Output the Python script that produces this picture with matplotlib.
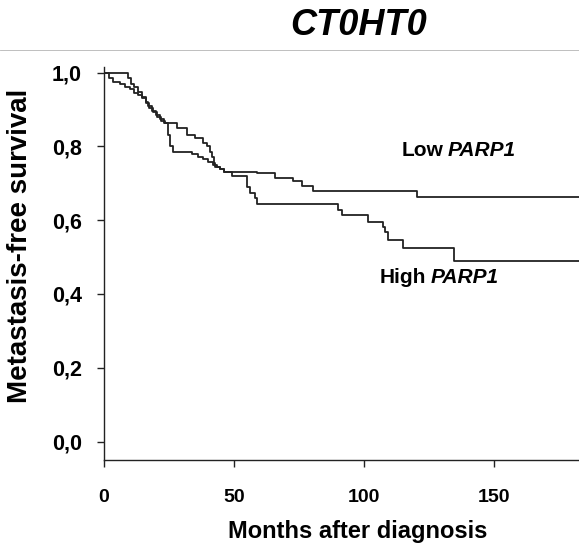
import numpy as np
import matplotlib.pyplot as plt
from matplotlib.lines import Line2D

plt.rcParams['font.family'] = ['Liberation Sans', 'DejaVu Sans']

## Kaplan-Meier steps (months, survival)
low_t = [0, 9.2, 10.5, 11.5, 13, 14.5, 16, 17, 18.5, 20, 21.5, 23, 28, 32, 35,
         38, 39.5, 40.8, 41.5, 42.3, 42.7, 44.5, 46, 58.8, 65.8, 72.7, 76,
         80.4, 120.3, 183]
low_s = [1.0, 0.985, 0.97, 0.96, 0.947, 0.935, 0.92, 0.91, 0.895, 0.885, 0.875,
         0.863, 0.85, 0.831, 0.822, 0.809, 0.80, 0.786, 0.77, 0.755, 0.745,
         0.738, 0.731, 0.727, 0.714, 0.705, 0.692, 0.680, 0.664, 0.664]

high_t = [0, 2, 3.5, 6, 8, 10, 11.5, 13, 14.5, 16, 17.5, 19, 20.5, 22, 23.5,
          24.5, 25.5, 26.5, 34, 36, 38, 40, 42, 43.5, 44.5, 46, 49.2, 55, 56,
          58, 59, 90, 91.4, 101.5, 107.3, 108.0, 109.2, 115, 134.6, 183]
high_s = [1.0, 0.985, 0.975, 0.97, 0.962, 0.955, 0.945, 0.94, 0.93, 0.918,
          0.905, 0.893, 0.88, 0.87, 0.863, 0.83, 0.80, 0.786, 0.778, 0.77,
          0.765, 0.758, 0.75, 0.745, 0.738, 0.731, 0.72, 0.691, 0.674, 0.66,
          0.643, 0.628, 0.614, 0.595, 0.582, 0.569, 0.547, 0.524, 0.488, 0.488]

x_ticks = [0, 50, 100, 150]
y_ticks = [0.0, 0.2, 0.4, 0.6, 0.8, 1.0]
y_tick_labels = ['0,0', '0,2', '0,4', '0,6', '0,8', '1,0']

W, H = 579, 546
fig = plt.figure(figsize=(W / 100, H / 100), dpi=100)
ax = fig.add_axes([104 / W, 1 - 460 / H, 475 / W, (460 - 67) / H])

ax.step(low_t, low_s, where='post', color='#222222', lw=1.3)
ax.step(high_t, high_s, where='post', color='#222222', lw=1.3)

ax.set_xlim(0, 182.7)
ax.set_ylim(-0.05, 1.015)

ax.spines['top'].set_visible(False)
ax.spines['right'].set_visible(False)
for s in ['left', 'bottom']:
    ax.spines[s].set_linewidth(1.0)
    ax.spines[s].set_color('#222222')

ax.set_xticks(x_ticks)
ax.set_xticklabels([str(v) for v in x_ticks], fontsize=14, fontweight='bold')
ax.set_yticks(y_ticks)
ax.set_yticklabels(y_tick_labels, fontsize=15.5, fontweight='bold')
ax.tick_params(axis='x', length=5, width=1.0, pad=16, color='#222222')
ax.tick_params(axis='y', length=5, width=1.0, pad=11, color='#222222')

## texts
fig.text(358.5 / W, 1 - 35 / H, 'CT0HT0', ha='center', va='baseline',
         fontsize=26, fontweight='bold', fontstyle='italic')
fig.text(358 / W, 1 - 538 / H, 'Months after diagnosis', ha='center',
         va='baseline', fontsize=17, fontweight='bold')
fig.text(20 / W, 1 - 246 / H, 'Metastasis-free survival', ha='center',
         va='center', rotation=90, fontsize=20, fontweight='bold')


def gene_label(x_px, base_px, word):
    # plain bold word followed by the gene name in bold italic
    t = fig.text(x_px / W, 1 - base_px / H, word, ha='left', va='baseline',
                 fontsize=15, fontweight='bold')
    r = fig.canvas.get_renderer()
    bb = t.get_window_extent(renderer=r)
    fig.text((bb.x1 + 4.5) / W, 1 - base_px / H, 'PARP1', ha='left',
             va='baseline', fontsize=15, fontweight='bold', fontstyle='italic')


gene_label(401.7, 156, 'Low')
gene_label(380, 283, 'High')

# faint rule near the top of the page
fig.add_artist(Line2D([0, 1], [1 - 49.5 / H] * 2, transform=fig.transFigure,
                      color='#b4b4b4', lw=0.6))

fig.savefig('out.png', dpi=100)
